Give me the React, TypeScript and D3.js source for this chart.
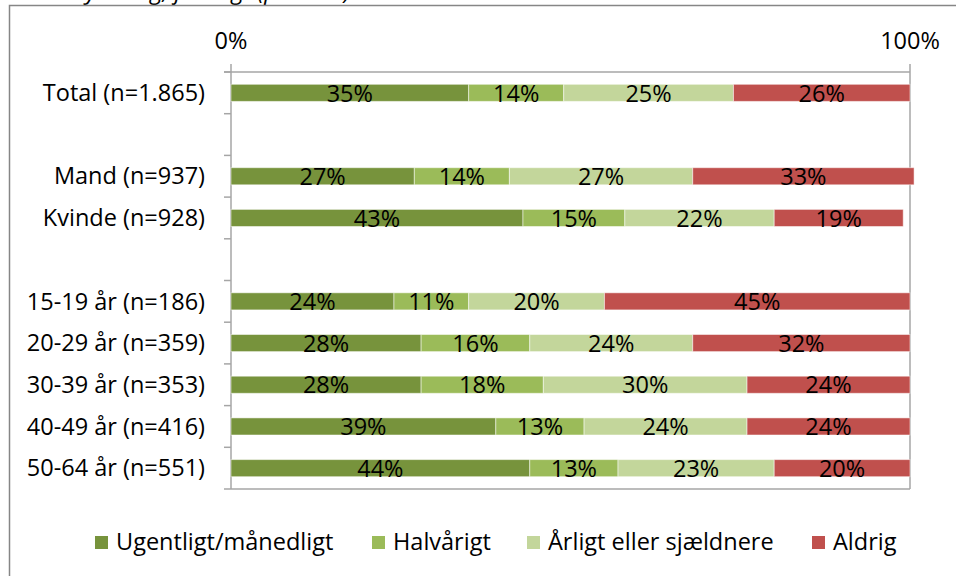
import React, { useRef, useEffect } from 'react';
import * as d3 from 'd3';

// category slots, blank entries are the gaps between groups
const categories = [
  'Total (n=1.865)',
  '',
  'Mand (n=937)',
  'Kvinde (n=928)',
  ' ',
  '15-19 år (n=186)',
  '20-29 år (n=359)',
  '30-39 år (n=353)',
  '40-49 år (n=416)',
  '50-64 år (n=551)',
];
const rows = ['Total (n=1.865)', 'Mand (n=937)', 'Kvinde (n=928)', '15-19 år (n=186)', '20-29 år (n=359)', '30-39 år (n=353)', '40-49 år (n=416)', '50-64 år (n=551)'];
const seriesNames = ['Ugentligt/månedligt', 'Halvårigt', 'Årligt eller sjældnere', 'Aldrig'];
const ugentligt = [35, 27, 43, 24, 28, 28, 39, 44];
const halvaarigt = [14, 14, 15, 11, 16, 18, 13, 13];
const aarligt = [25, 27, 22, 20, 24, 30, 24, 23];
const aldrig = [26, 32.6, 19, 45, 32, 24, 24, 20];
const colors = ['#77933C', '#9BBB59', '#C3D69B', '#C0504D'];
const tickLabels = ['0%', '100%'];

export default function App() {
  const ref = useRef<SVGSVGElement>(null);

  useEffect(() => {
    const width = 956;
    const height = 576;
    const margin = { top: 72, right: 46, bottom: 87, left: 231 };
    const font = '"Open Sans", sans-serif';
    const fs = 23.5;

    const svg = d3.select(ref.current);
    svg.selectAll('*').remove();

    // clipped title above the frame
    svg.append('text')
      .attr('x', 70)
      .attr('y', -1)
      .attr('font-family', font)
      .attr('font-style', 'italic')
      .attr('font-size', fs)
      .text('Dyrkning, frivilligt (procent)');

    svg.append('rect')
      .attr('x', 9.5)
      .attr('y', 5.5)
      .attr('width', 980)
      .attr('height', 600)
      .attr('fill', 'none')
      .attr('stroke', '#868686')
      .attr('stroke-width', 1.5);

    const x = d3.scaleLinear().domain([0, 1]).range([margin.left, width - margin.right]);
    const y = d3.scaleBand().domain(categories).range([margin.top, height - margin.bottom]);

    const data = rows.map((name, i) => ({
      name,
      values: [ugentligt[i], halvaarigt[i], aarligt[i], aldrig[i]],
    }));

    const stack = d3.stack<any>()
      .keys([0, 1, 2, 3].map(String))
      .value((d, key) => d.values[+key] / 100);
    const layers = stack(data);

    const barH = y.bandwidth() * 0.41;
    const axisColor = '#a6a6a6';

    // frame lines of plot area
    const plot = svg.append('g');
    plot.append('line')
      .attr('x1', x(0) - 7).attr('x2', x(1))
      .attr('y1', margin.top).attr('y2', margin.top)
      .attr('stroke', axisColor).attr('stroke-width', 1.5);
    plot.append('line')
      .attr('x1', x(0) - 7).attr('x2', x(1))
      .attr('y1', height - margin.bottom).attr('y2', height - margin.bottom)
      .attr('stroke', axisColor).attr('stroke-width', 1.5);
    [0, 1].forEach((v) => {
      plot.append('line')
        .attr('x1', x(v)).attr('x2', x(v))
        .attr('y1', margin.top - 8).attr('y2', height - margin.bottom)
        .attr('stroke', axisColor).attr('stroke-width', 1.5);
    });
    // category ticks at band boundaries
    categories.forEach((c) => {
      plot.append('line')
        .attr('x1', x(0) - 7).attr('x2', x(0))
        .attr('y1', y(c)!).attr('y2', y(c)!)
        .attr('stroke', axisColor).attr('stroke-width', 1.5);
    });

    svg.append('g')
      .selectAll('text')
      .data(tickLabels)
      .join('text')
      .attr('x', (d, i) => x(i))
      .attr('y', 49)
      .attr('text-anchor', 'middle')
      .attr('font-family', font)
      .attr('font-size', fs)
      .text((d) => d);

    svg.append('g')
      .selectAll('text')
      .data(rows)
      .join('text')
      .attr('x', 205)
      .attr('y', (d) => y(d)! + y.bandwidth() / 2)
      .attr('dy', '0.35em')
      .attr('text-anchor', 'end')
      .attr('font-family', font)
      .attr('font-size', fs)
      .text((d) => d);

    layers.forEach((layer, k) => {
      const g = svg.append('g');
      g.selectAll('rect')
        .data(layer)
        .join('rect')
        .attr('x', (d) => x(d[0]))
        .attr('y', (d) => y(d.data.name)! + (y.bandwidth() - barH) / 2)
        .attr('width', (d) => x(d[1]) - x(d[0]))
        .attr('height', barH)
        .attr('fill', colors[k])
        .attr('stroke', 'rgba(255,255,255,0.5)')
        .attr('stroke-width', 1);
      g.selectAll('text')
        .data(layer)
        .join('text')
        .attr('x', (d) => (x(d[0]) + x(d[1])) / 2)
        .attr('y', (d) => y(d.data.name)! + y.bandwidth() / 2)
        .attr('dy', '0.37em')
        .attr('text-anchor', 'middle')
        .attr('font-family', font)
        .attr('font-size', fs)
        .text((d) => `${Math.round(d.data.values[k])}%`);
    });

    // legend
    const legendX = [95, 372, 527, 812];
    const legend = svg.append('g');
    seriesNames.forEach((name, i) => {
      legend.append('rect')
        .attr('x', legendX[i])
        .attr('y', 536)
        .attr('width', 13)
        .attr('height', 13)
        .attr('fill', colors[i]);
      legend.append('text')
        .attr('x', legendX[i] + 21)
        .attr('y', 542)
        .attr('dy', '0.36em')
        .attr('font-family', font)
        .attr('font-size', fs)
        .text(name);
    });
  }, []);

  return (
    <svg
      ref={ref}
      width={956}
      height={576}
      style={{ position: 'absolute', left: 0, top: 0, background: '#fff' }}
    />
  );
}
